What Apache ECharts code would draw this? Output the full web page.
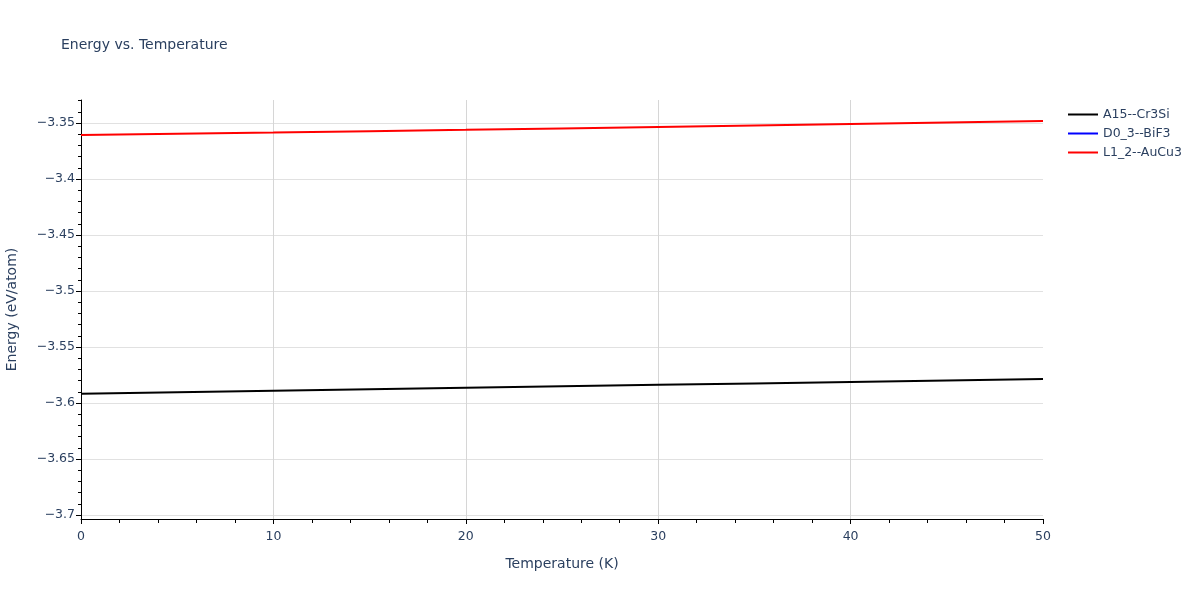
<!DOCTYPE html>
<html>
<head>
<meta charset="utf-8">
<script src="https://cdn.jsdelivr.net/npm/echarts@6/dist/echarts.min.js"></script>
<style>html,body{margin:0;padding:0;background:#fff}#c{width:1200px;height:600px}</style>
</head>
<body>
<div id="c"></div>
<script>
// ---- data ----
const temperatures = [0, 5, 10, 15, 20, 25, 30, 35, 40, 45, 50];
const a15Cr3Si = [-3.5918, -3.5905, -3.5891, -3.5878, -3.5864, -3.5851, -3.5838, -3.5825, -3.5812, -3.5799, -3.5786];
const d03BiF3 = []; // legend entry only; no visible line in the reference
const l12AuCu3 = [-3.3607, -3.3596, -3.3585, -3.3573, -3.3561, -3.3548, -3.3535, -3.3522, -3.3508, -3.3495, -3.3482];
const seriesNames = ['A15--Cr3Si', 'D0_3--BiF3', 'L1_2--AuCu3'];
const xTicks = [0, 10, 20, 30, 40, 50];
const yTickLabels = [-3.7, -3.65, -3.6, -3.55, -3.5, -3.45, -3.4, -3.35];

const FONT = '"DejaVu Sans", Verdana, sans-serif';
const TXT = '#2a3f5f';
const GRIDC = '#e1e1e1';
const pairs = arr => arr.map((v, i) => [temperatures[i], v]);
const fmtY = v => String(+v.toFixed(2)).replace('-', '\u2212');
const LINE_ICON = 'path://M0,0 L30,0 L30,2 L0,2 Z';

const chart = echarts.init(document.getElementById('c'));
chart.setOption({
  animation: false,
  backgroundColor: '#fff',
  title: {
    text: 'Energy vs. Temperature', left: 56, top: 33,
    textStyle: { fontFamily: FONT, fontSize: 14, fontWeight: 'normal', color: TXT }
  },
  legend: {
    orient: 'vertical', left: 1063, top: 103, itemWidth: 30, itemHeight: 2, itemGap: 6,
    data: seriesNames.map(n => ({ name: n, icon: LINE_ICON })),
    textStyle: { fontFamily: FONT, fontSize: 12.5, color: TXT }
  },
  grid: [
    { left: 81, right: 157, top: 100, bottom: 81, outerBoundsMode: 'none', containLabel: false },
    { left: 81, right: 157, top: 123, bottom: 85, outerBoundsMode: 'none', containLabel: false },
    { left: 81, right: 157, top: 100.6, bottom: 85, outerBoundsMode: 'none', containLabel: false }
  ],
  xAxis: [
    {
      gridIndex: 0, type: 'value', min: xTicks[0], max: xTicks[xTicks.length - 1], interval: 10,
      name: 'Temperature (K)', nameLocation: 'middle', nameGap: 38,
      nameTextStyle: { fontFamily: FONT, fontSize: 14, color: TXT },
      axisLine: { show: true, lineStyle: { color: '#000', width: 1 } },
      axisTick: { show: true, inside: false, length: 5, lineStyle: { color: '#000' } },
      minorTick: { show: true, splitNumber: 5, length: 4, lineStyle: { color: '#000' } },
      axisLabel: { margin: 11, fontFamily: FONT, fontSize: 12.5, color: TXT },
      splitLine: { show: true, showMinLine: false, showMaxLine: false, lineStyle: { color: '#d6d6d6', width: 1 } }
    },
    { gridIndex: 1, type: 'value', min: 0, max: 50, show: false },
    { gridIndex: 2, type: 'value', min: 0, max: 50, show: false }
  ],
  yAxis: [
    {
      gridIndex: 0, type: 'value', min: -3.703571, max: -3.329464,
      name: 'Energy (eV/atom)', nameLocation: 'middle', nameGap: 62,
      nameTextStyle: { fontFamily: FONT, fontSize: 14, color: TXT },
      axisLine: { show: true, lineStyle: { color: '#000', width: 1 } },
      axisTick: { show: false }, axisLabel: { show: false }, splitLine: { show: false }
    },
    {
      gridIndex: 1, type: 'value', min: yTickLabels[0], max: yTickLabels[yTickLabels.length - 1], interval: 0.05,
      axisLine: { show: false },
      axisTick: { show: true, length: 5, lineStyle: { color: '#000' } },
      axisLabel: { margin: 6, fontFamily: FONT, fontSize: 12.5, color: TXT, formatter: fmtY },
      splitLine: { show: true, showMinLine: true, showMaxLine: true, lineStyle: { color: GRIDC, width: 1 } }
    },
    {
      gridIndex: 2, type: 'value', min: -3.7, max: -3.33, interval: 0.01,
      axisLine: { show: false },
      axisTick: { show: true, length: 3, lineStyle: { color: '#000' } },
      axisLabel: { show: false }, splitLine: { show: false }
    }
  ],
  series: [
    { name: seriesNames[0], type: 'line', xAxisIndex: 0, yAxisIndex: 0, data: pairs(a15Cr3Si), showSymbol: false, symbol: 'none', lineStyle: { color: '#000000', width: 2 }, itemStyle: { color: '#000000' } },
    { name: seriesNames[1], type: 'line', xAxisIndex: 0, yAxisIndex: 0, data: pairs(d03BiF3), showSymbol: false, symbol: 'none', lineStyle: { color: '#0000ff', width: 2 }, itemStyle: { color: '#0000ff' } },
    { name: seriesNames[2], type: 'line', xAxisIndex: 0, yAxisIndex: 0, data: pairs(l12AuCu3), showSymbol: false, symbol: 'none', lineStyle: { color: '#ff0000', width: 2 }, itemStyle: { color: '#ff0000' } }
  ]
});
</script>
</body>
</html>
